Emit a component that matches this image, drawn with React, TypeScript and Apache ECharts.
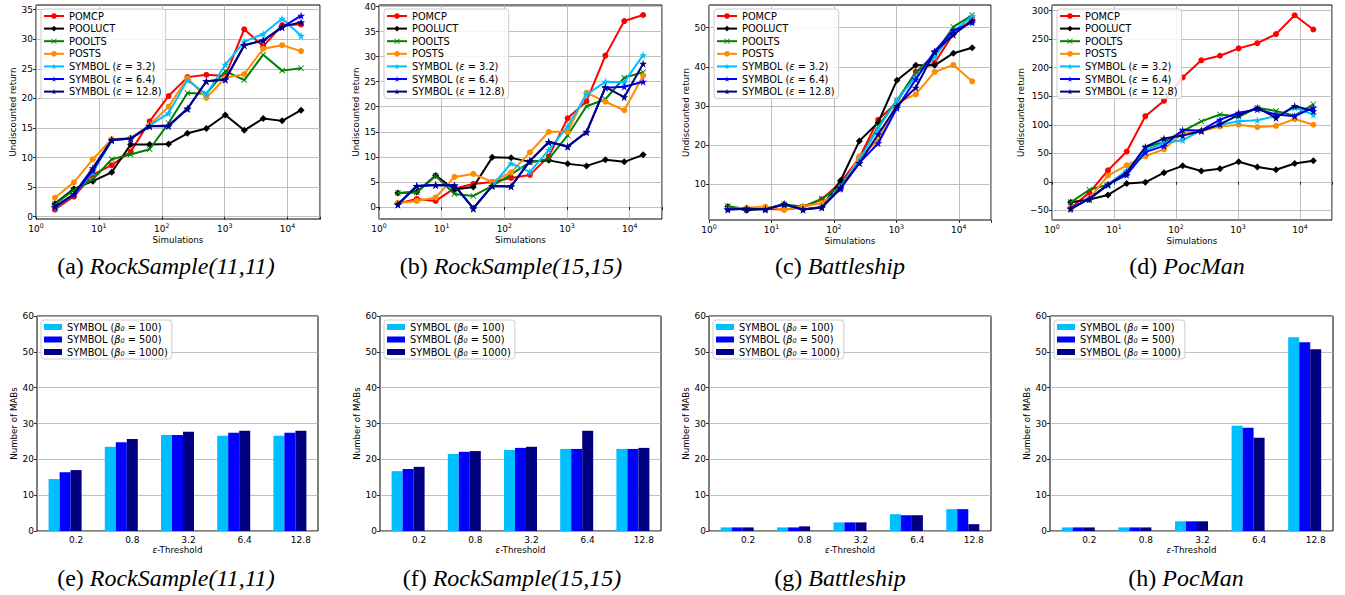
import React, { useEffect, useRef } from "react";
import * as echarts from "echarts";

// ---------- data ----------
const SIM = [2, 4, 8, 16, 32, 64, 128, 256, 512, 1024, 2048, 4096, 8192, 16384];
const METHODS = ["POMCP", "POOLUCT", "POOLTS", "POSTS", "SYMBOL (ε = 3.2)", "SYMBOL (ε = 6.4)", "SYMBOL (ε = 12.8)"];

// (a) RockSample(11,11)
const RS11_POMCP = [1.2, 3.4, 7.1, 8.7, 11.0, 16.1, 20.4, 23.6, 24.0, 23.8, 31.7, 28.8, 32.4, 32.5];
const RS11_POOLUCT = [2.2, 4.7, 6.0, 7.5, 12.2, 12.2, 12.3, 14.1, 14.9, 17.2, 14.6, 16.6, 16.2, 18.0];
const RS11_POOLTS = [2.1, 4.5, 6.3, 9.7, 10.5, 11.4, 15.8, 20.9, 20.8, 24.6, 23.1, 27.4, 24.7, 25.1];
const RS11_POSTS = [3.2, 5.8, 9.7, 13.1, 13.3, 15.5, 18.6, 23.4, 20.1, 23.5, 24.1, 28.4, 29.0, 28.0];
const RS11_SYM32 = [1.5, 3.7, 7.5, 12.9, 13.2, 15.4, 17.5, 23.1, 20.7, 25.7, 29.6, 30.9, 33.5, 30.6];
const RS11_SYM64 = [1.6, 3.7, 7.8, 12.9, 13.2, 15.3, 15.3, 18.2, 22.9, 23.2, 29.0, 29.8, 32.0, 34.0];
const RS11_SYM128 = [1.7, 3.8, 8.2, 13.0, 13.2, 15.3, 15.4, 18.3, 22.9, 23.2, 29.0, 29.8, 32.1, 32.9];

// (b) RockSample(15,15)
const RS15_POMCP = [0.7, 1.6, 1.2, 3.7, 4.6, 5.0, 5.8, 6.4, 10.1, 17.7, 21.1, 30.2, 37.1, 38.3];
const RS15_POOLUCT = [2.8, 3.0, 6.3, 3.5, 4.0, 9.9, 9.8, 9.0, 9.3, 8.6, 8.2, 9.4, 9.0, 10.4];
const RS15_POOLTS = [2.8, 2.9, 6.2, 2.6, 2.2, 4.2, 6.5, 8.9, 9.6, 14.3, 20.1, 21.5, 25.8, 26.9];
const RS15_POSTS = [0.8, 1.2, 1.9, 6.0, 6.6, 5.0, 6.9, 10.9, 15.0, 15.0, 22.8, 21.0, 19.3, 26.2];
const RS15_SYM32 = [0.5, 4.2, 4.4, 4.3, -0.3, 4.2, 8.7, 7.0, 11.4, 16.1, 22.4, 25.0, 24.9, 30.3];
const RS15_SYM64 = [0.5, 4.2, 4.4, 4.3, -0.3, 4.2, 4.1, 9.2, 12.9, 12.1, 15.0, 23.8, 24.0, 25.0];
const RS15_SYM128 = [0.5, 4.2, 4.4, 4.3, -0.3, 4.2, 4.1, 9.2, 13.0, 12.0, 14.9, 23.9, 21.9, 28.6];

// (c) Battleship
const BS_POMCP = [3.7, 3.8, 3.7, 3.6, 4.1, 6.2, 10.5, 16.8, 26.5, 31.0, 38.8, 41.0, 48.5, 52.0];
const BS_POOLUCT = [4.3, 3.4, 3.7, 4.9, 3.6, 4.2, 11.0, 21.1, 25.8, 36.6, 40.4, 40.4, 43.5, 44.9];
const BS_POOLTS = [4.4, 3.7, 3.7, 4.9, 4.3, 6.3, 9.6, 16.2, 24.8, 31.5, 38.5, 43.3, 50.2, 53.2];
const BS_POSTS = [3.6, 4.0, 4.3, 3.5, 4.4, 5.2, 8.7, 17.2, 21.1, 30.9, 33.0, 38.7, 40.5, 36.3];
const BS_SYM32 = [3.7, 3.8, 3.7, 4.9, 3.6, 4.2, 9.4, 16.3, 24.3, 31.5, 37.5, 42.5, 49.0, 53.0];
const BS_SYM64 = [3.6, 3.8, 3.6, 4.9, 3.6, 4.1, 8.9, 15.5, 20.5, 29.5, 36.8, 44.0, 49.3, 51.3];
const BS_SYM128 = [3.6, 3.8, 3.6, 4.9, 3.6, 4.1, 9.2, 15.4, 22.8, 30.0, 34.7, 43.8, 48.2, 51.8];

// (d) PocMan
const PM_POMCP = [-46, -19, 20, 53, 115, 142, 183, 213, 221, 234, 243, 259, 292, 267];
const PM_POOLUCT = [-36, -31, -23, -3, -1, 16, 28, 19, 23, 35, 26, 21, 32, 37];
const PM_POOLTS = [-36, -14, -5, 15, 60, 70, 89, 106, 118, 114, 130, 124, 116, 136];
const PM_POSTS = [-49, -29, 11, 29, 45, 57, 85, 89, 97, 100, 96, 98, 110, 100];
const PM_SYM32 = [-47, -30, -5, 20, 55, 68, 73, 90, 100, 106, 108, 115, 130, 118];
const PM_SYM64 = [-47, -30, -5, 12, 52, 63, 91, 90, 109, 121, 127, 118, 115, 130];
const PM_SYM128 = [-47, -30, -5, 16, 61, 76, 81, 89, 101, 117, 130, 112, 133, 124];

// y tick values for the line plots
const TICKS_A = [0, 5, 10, 15, 20, 25, 30, 35];
const TICKS_B = [0, 5, 10, 15, 20, 25, 30, 35, 40];
const TICKS_C = [10, 20, 30, 40, 50];
const TICKS_D = [-50, 0, 50, 100, 150, 200, 250, 300];

// bar plots
const EPS_THRESHOLDS = ["0.2", "0.8", "3.2", "6.4", "12.8"];
const BETAS = ["SYMBOL (β0 = 100)", "SYMBOL (β0 = 500)", "SYMBOL (β0 = 1000)"];

const E_B100 = [14.5, 23.5, 26.8, 26.6, 26.6];
const E_B500 = [16.4, 24.8, 26.8, 27.4, 27.4];
const E_B1000 = [17.0, 25.7, 27.7, 28.0, 28.0];

const F_B100 = [16.7, 21.5, 22.6, 22.9, 22.9];
const F_B500 = [17.3, 22.1, 23.2, 22.9, 22.9];
const F_B1000 = [17.9, 22.3, 23.5, 28.0, 23.2];

const G_B100 = [1.0, 1.0, 2.4, 4.7, 6.1];
const G_B500 = [1.0, 1.0, 2.4, 4.4, 6.1];
const G_B1000 = [1.0, 1.3, 2.4, 4.4, 1.9];

const H_B100 = [1.0, 1.0, 2.7, 29.4, 54.1];
const H_B500 = [1.0, 1.0, 2.7, 28.8, 52.7];
const H_B1000 = [1.0, 1.0, 2.7, 26.0, 50.7];

// ---------- styling ----------
const FONT = "DejaVu Sans";
const SERIF = "Liberation Serif";
const TICK_FS = 9;
const LEG_FS = 9.8;
const CAP_FS = 24;
const METHOD_COLORS = ["#ff0000", "#000000", "#008000", "#ff8c00", "#00bfff", "#0000ff", "#000080"];
const BETA_COLORS = ["#00bfff", "#0000ff", "#000080"];
const X_PATH = "path://M1,0L5,4L9,0L10,1L6,5L10,9L9,10L5,6L1,10L0,9L4,5L0,1Z";
const STAR_PATH = "path://M50,0L61,35L98,35L68,57L79,91L50,70L21,91L32,57L2,35L39,35Z";
const METHOD_SYMBOLS = ["circle", "diamond", X_PATH, "circle", STAR_PATH, STAR_PATH, STAR_PATH];
const METHOD_SYMBOL_SIZES = [6, 7, 6, 6, 8, 8, 8];

const TOP_PANELS = [
  { series: [RS11_POMCP, RS11_POOLUCT, RS11_POOLTS, RS11_POSTS, RS11_SYM32, RS11_SYM64, RS11_SYM128], ticks: TICKS_A, min: -0.4, max: 35.8, grid: { left: 36, top: 5, width: 284, height: 214 }, nameGap: 18, label: "(a) ", title: "RockSample(11,11)", cx: 166 },
  { series: [RS15_POMCP, RS15_POOLUCT, RS15_POOLTS, RS15_POSTS, RS15_SYM32, RS15_SYM64, RS15_SYM128], ticks: TICKS_B, min: -2.4, max: 40.3, grid: { left: 379, top: 5, width: 283, height: 214 }, nameGap: 19, label: "(b) ", title: "RockSample(15,15)", cx: 511 },
  { series: [BS_POMCP, BS_POOLUCT, BS_POOLTS, BS_POSTS, BS_SYM32, BS_SYM64, BS_SYM128], ticks: TICKS_C, min: 0.9, max: 55.8, grid: { left: 709, top: 5, width: 282, height: 215 }, nameGap: 19, label: "(c) ", title: "Battleship", cx: 840 },
  { series: [PM_POMCP, PM_POOLUCT, PM_POOLTS, PM_POSTS, PM_SYM32, PM_SYM64, PM_SYM128], ticks: TICKS_D, min: -67, max: 310, grid: { left: 1052, top: 5, width: 280, height: 215 }, nameGap: 27, label: "(d) ", title: "PocMan", cx: 1187 },
];

const BOTTOM_PANELS = [
  { series: [E_B100, E_B500, E_B1000], grid: { left: 37, top: 316, width: 281, height: 215 }, nameGap: 18, label: "(e) ", title: "RockSample(11,11)", cx: 166 },
  { series: [F_B100, F_B500, F_B1000], grid: { left: 380, top: 316, width: 281, height: 215 }, nameGap: 18, label: "(f) ", title: "RockSample(15,15)", cx: 512 },
  { series: [G_B100, G_B500, G_B1000], grid: { left: 709, top: 316, width: 282, height: 215 }, nameGap: 18, label: "(g) ", title: "Battleship", cx: 840 },
  { series: [H_B100, H_B500, H_B1000], grid: { left: 1050, top: 316, width: 283, height: 215 }, nameGap: 18, label: "(h) ", title: "PocMan", cx: 1186 },
];

const fmtNum = (v: number) => (v < 0 ? "\u2212" + Math.abs(v) : String(v));

const logLabel = (v: number) => {
  const e = Math.round(Math.log10(v));
  if (Math.abs(Math.pow(10, e) - v) > 1e-6 * v) return "";
  return "{b|10}{s|" + e + "}";
};

function buildOption() {
  const grids: any[] = [];
  const xAxes: any[] = [];
  const yAxes: any[] = [];
  const series: any[] = [];
  const legends: any[] = [];
  const graphics: any[] = [];

  const axisText = { color: "#000", fontFamily: FONT, fontSize: TICK_FS };
  const nameText = { color: "#000", fontFamily: FONT, fontSize: 8.7 };
  const splitLine = { show: true, lineStyle: { color: "#b0b0b0", width: 0.8 } };
  const tick = { show: true, length: 3, lineStyle: { color: "#000", width: 0.8 } };
  const caption = (p: any, y: number) => ({
    type: "text", x: p.cx, y,
    style: {
      text: p.label + "{i|" + p.title + "}", align: "center", verticalAlign: "middle",
      fontFamily: SERIF, fontSize: CAP_FS, fill: "#000",
      rich: { i: { fontFamily: SERIF, fontSize: CAP_FS, fontStyle: "italic", fill: "#000" } },
    },
  });

  TOP_PANELS.forEach((p, i) => {
    grids.push({ ...p.grid, show: true, borderColor: "#000", borderWidth: 1, backgroundColor: "#fff", containLabel: false, outerBoundsMode: "none" });
    xAxes.push({
      type: "log", logBase: 10, gridIndex: i, min: 1, max: 32768,
      axisLine: { show: false }, axisTick: tick, splitLine,
      axisLabel: {
        ...axisText, margin: 3, formatter: logLabel,
        rich: { b: { fontSize: TICK_FS, fontFamily: FONT, color: "#000", lineHeight: 13 }, s: { fontSize: 6.3, fontFamily: FONT, color: "#000", lineHeight: 7, verticalAlign: "top" } },
      },
      name: "Simulations", nameLocation: "middle", nameGap: 16, nameTextStyle: nameText,
    });
    yAxes.push({
      type: "value", gridIndex: i, min: p.min, max: p.max,
      axisLine: { show: false },
      axisTick: { ...tick, customValues: p.ticks },
      axisLabel: { ...axisText, margin: 3, customValues: p.ticks, formatter: (v: number) => (p.ticks.indexOf(v) >= 0 ? fmtNum(v) : "") },
      splitLine,
      name: "Undiscounted return", nameLocation: "middle", nameGap: p.nameGap, nameTextStyle: nameText,
    });
    p.series.forEach((vals, k) => {
      series.push({
        type: "line", name: METHODS[k], xAxisIndex: i, yAxisIndex: i,
        data: SIM.map((x, j) => [x, vals[j]]),
        color: METHOD_COLORS[k],
        lineStyle: { width: 2, color: METHOD_COLORS[k] },
        itemStyle: { color: METHOD_COLORS[k] },
        symbol: METHOD_SYMBOLS[k], symbolSize: METHOD_SYMBOL_SIZES[k], showSymbol: true,
        z: 2 + k,
      });
    });
    legends.push({
      data: METHODS, orient: "vertical", left: p.grid.left + 5, top: 9,
      itemWidth: 20, itemHeight: 7, itemGap: 2.6,
      padding: [2, 4, 2, 2],
      backgroundColor: "rgba(255,255,255,0.85)", borderColor: "#cccccc", borderWidth: 1, borderRadius: 3,
      formatter: (n: string) => n.replace("ε", "{it|ε}"),
      textStyle: { color: "#000", fontFamily: FONT, fontSize: LEG_FS, lineHeight: 10, rich: { it: { fontStyle: "italic", fontFamily: FONT, fontSize: LEG_FS, color: "#000", lineHeight: 10 } } },
    });
    graphics.push(caption(p, 266));
  });

  BOTTOM_PANELS.forEach((p, bi) => {
    const i = bi + TOP_PANELS.length;
    grids.push({ ...p.grid, show: true, borderColor: "#000", borderWidth: 1, backgroundColor: "#fff", containLabel: false, outerBoundsMode: "none" });
    xAxes.push({
      type: "category", gridIndex: i, data: EPS_THRESHOLDS,
      axisLine: { show: false }, axisTick: { show: false }, splitLine: { show: false },
      axisLabel: { ...axisText, margin: 4, padding: [0, 0, 0, 22] },
      name: "{it|ε}-Threshold", nameLocation: "middle", nameGap: 14,
      nameTextStyle: { ...nameText, rich: { it: { fontStyle: "italic", fontFamily: FONT, fontSize: 8.7, color: "#000" } } },
    });
    yAxes.push({
      type: "value", gridIndex: i, min: 0, max: 60, interval: 10,
      axisLine: { show: false }, axisTick: tick,
      axisLabel: { ...axisText, margin: 3 },
      splitLine,
      name: "Number of MABs", nameLocation: "middle", nameGap: p.nameGap, nameTextStyle: nameText,
    });
    p.series.forEach((vals, k) => {
      series.push({
        type: "bar", name: BETAS[k], xAxisIndex: i, yAxisIndex: i,
        data: vals, barWidth: 11, barGap: "0%",
        itemStyle: { color: BETA_COLORS[k] }, color: BETA_COLORS[k],
      });
    });
    legends.push({
      data: BETAS, orient: "vertical", left: p.grid.left + 4, top: 320,
      itemWidth: 18, itemHeight: 6, itemGap: 2.5, icon: "rect",
      padding: [2, 4, 2, 3],
      backgroundColor: "rgba(255,255,255,0.85)", borderColor: "#cccccc", borderWidth: 1, borderRadius: 3,
      formatter: (n: string) => n.replace("β0", "{it|β}{sub|0}"),
      textStyle: {
        color: "#000", fontFamily: FONT, fontSize: LEG_FS, lineHeight: 10,
        rich: {
          it: { fontStyle: "italic", fontFamily: FONT, fontSize: LEG_FS, color: "#000", lineHeight: 10 },
          sub: { fontStyle: "italic", fontFamily: FONT, fontSize: 6.5, color: "#000", lineHeight: 6, verticalAlign: "bottom" },
        },
      },
    });
    graphics.push(caption(p, 578));
  });

  return {
    animation: false,
    backgroundColor: "#fff",
    textStyle: { fontFamily: FONT },
    grid: grids,
    xAxis: xAxes,
    yAxis: yAxes,
    legend: legends,
    series,
    graphic: graphics,
  };
}

export default function App() {
  const ref = useRef<HTMLDivElement>(null);
  useEffect(() => {
    if (!ref.current) return;
    const chart = echarts.init(ref.current, null, { renderer: "svg" });
    chart.setOption(buildOption() as any);
    return () => chart.dispose();
  }, []);
  return <div ref={ref} style={{ position: "fixed", left: 0, top: 0, width: 1345, height: 595 }} />;
}
